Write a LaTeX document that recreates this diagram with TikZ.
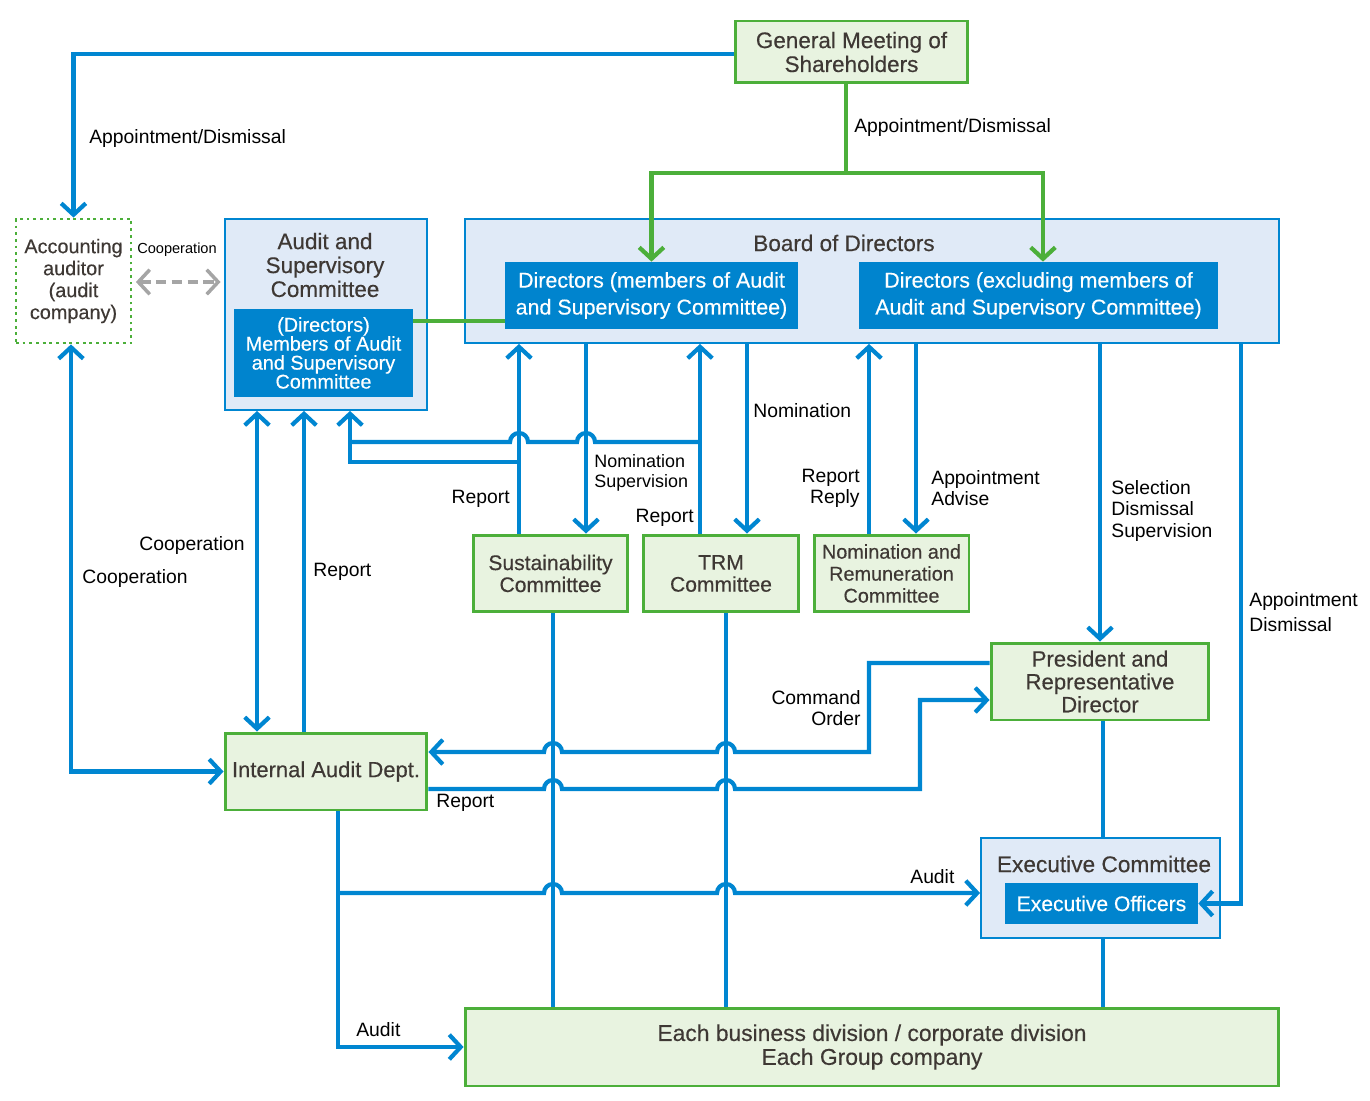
\documentclass[tikz,border=0pt]{standalone}
\usepackage{fontspec}
\setmainfont{Liberation Sans}
\newfontfamily\boxface[FakeBold=0.35]{Liberation Sans}
\usetikzlibrary{arrows.meta}
\setlength{\lineskiplimit}{-20pt}

\definecolor{lineblue}{RGB}{0,134,209}
\definecolor{linegreen}{RGB}{76,175,58}
\definecolor{fillgreen}{RGB}{232,243,224}
\definecolor{fillblue}{RGB}{224,234,247}
\definecolor{darkblue}{RGB}{0,132,206}
\definecolor{titletext}{RGB}{62,56,52}
\definecolor{dashgray}{RGB}{165,165,165}

\tikzset{
  >={Straight Barb[length=6.5pt,width=14pt]},
  blueline/.style={lineblue, line width=2.4pt},
  greenline/.style={linegreen, line width=2.4pt},
  greenbox/.style={draw=linegreen, line width=1.7pt, fill=fillgreen, text=titletext, align=center, inner sep=0pt},
  bluebox/.style={draw=lineblue, line width=1.1pt, fill=fillblue, inner sep=0pt},
  darkbox/.style={fill=darkblue, text=white, align=center, inner sep=0pt},
  boxtitle/.style={text=titletext, align=center, inner sep=0pt},
  lbl/.style={text=black, inner sep=0pt, font=\fontsize{11}{12}\selectfont},
}

\begin{document}
\begin{tikzpicture}[x=0.02cm, y=-0.02cm]
\useasboundingbox (0,0) rectangle (1370,1101);

% Top level
\node[greenbox, minimum width=4.66cm, minimum height=1.24cm, font=\boxface\fontsize{12.8}{13.6}\selectfont] (gm) at (851.5,52) {General Meeting of\\Shareholders};
\node[draw=linegreen, line width=1.6pt, dash pattern=on 1.6pt off 2.2pt, minimum width=2.30cm, minimum height=2.48cm,
  text=titletext, align=center, inner sep=0pt, font=\boxface\fontsize{11.3}{12.5}\selectfont] (acc) at (73.5,281) {Accounting\\auditor\\(audit\\company)};

% Audit and Supervisory Committee
\node[bluebox, minimum width=4.04cm, minimum height=3.82cm] (asc) at (326,314.5) {};
\node[boxtitle, font=\boxface\fontsize{12.8}{13.6}\selectfont] (asct) at (325,265) {Audit and\\Supervisory\\Committee};
\node[darkbox, minimum width=3.58cm, minimum height=1.76cm, font=\boxface\fontsize{11.3}{10.8}\selectfont] (asm) at (323.5,353) {(Directors)\\Members of Audit\\and Supervisory\\Committee};

% Board of Directors
\node[bluebox, minimum width=16.28cm, minimum height=2.48cm] (bod) at (872,281) {};
\node[boxtitle, font=\boxface\fontsize{12.8}{13.6}\selectfont] (bodt) at (844,243) {Board of Directors};
\node[darkbox, minimum width=5.86cm, minimum height=1.34cm, font=\boxface\fontsize{12.2}{15.3}\selectfont] (dam) at (651.5,295.5) {\raisebox{-3pt}{}Directors (members of Audit\\and Supervisory Committee)};
\node[darkbox, minimum width=7.18cm, minimum height=1.34cm, font=\boxface\fontsize{12.2}{15.3}\selectfont] (dex) at (1038.5,295.5) {Directors (excluding members of\\Audit and Supervisory Committee)};

% Committees
\node[greenbox, minimum width=3.10cm, minimum height=1.54cm, font=\boxface\fontsize{12}{12.5}\selectfont] (sus) at (550.5,573.5) {Sustainability\\Committee};
\node[greenbox, minimum width=3.12cm, minimum height=1.54cm, font=\boxface\fontsize{12}{12.5}\selectfont] (trm) at (721,573.5) {TRM\\Committee};
\node[greenbox, minimum width=3.10cm, minimum height=1.54cm, font=\boxface\fontsize{11.3}{12.5}\selectfont] (nrc) at (891.5,573.5) {Nomination and\\Remuneration\\Committee};

% Execution side
\node[greenbox, minimum width=4.36cm, minimum height=1.54cm, font=\boxface\fontsize{12.6}{13}\selectfont] (pres) at (1100,681.5) {President and\\Representative\\Director};
\node[greenbox, minimum width=4.04cm, minimum height=1.54cm, font=\boxface\fontsize{12.5}{13}\selectfont] (iad) at (326,771.5) {Internal Audit Dept.};
\node[bluebox, minimum width=4.78cm, minimum height=2.0cm] (exc) at (1100.5,888) {};
\node[boxtitle, font=\boxface\fontsize{12.9}{13.6}\selectfont] (exct) at (1104,864) {Executive Committee};
\node[darkbox, minimum width=3.86cm, minimum height=0.82cm, font=\boxface\fontsize{12}{13}\selectfont] (exo) at (1101.5,903.5) {Executive Officers};
\node[greenbox, minimum width=16.28cm, minimum height=1.56cm, font=\boxface\fontsize{13}{13.6}\selectfont] (biz) at (872,1047) {Each business division / corporate division\\Each Group company};

% Junctions
\coordinate (gsplit) at (846,173);
\coordinate (trmjoin) at (700,442);
\coordinate (susjoin) at (519,462);
\coordinate (iadsplit) at (338,893);

% Shareholders
\draw[blueline, ->] (gm.west |- 0,54) -| (acc.north);
\draw[greenline] (gm.south -| gsplit) -- (gsplit);
\draw[greenline, ->] (gsplit) -| (dam.north);
\draw[greenline, ->] (gsplit) -| ([xshift=0.09cm]dex.north);
\node[lbl, anchor=west] (lblgm1) at (89,139) {Appointment/Dismissal};
\node[lbl, anchor=west] (lblgm2) at (854,128) {Appointment/Dismissal};

% Audit committee links
\draw[greenline] (asm.east |- 0,321) -- (dam.west |- 0,321);
\draw[dashgray, line width=2pt, dash pattern=on 6pt off 3pt, <->, shorten <=2pt, shorten >=2pt] (acc.east |- 0,282) -- (asc.west |- 0,282);
\node[lbl, font=\fontsize{8.3}{9}\selectfont] (lblcoop1) at (177,250) {Cooperation};

% Board and committees
\draw[blueline, ->] (sus.north -| 519,0) -- (bod.south -| 519,0);
\draw[blueline, ->] (bod.south -| 586,0) -- (sus.north -| 586,0);
\draw[blueline, ->] (trm.north -| 700,0) -- (bod.south -| 700,0);
\draw[blueline, ->] (bod.south -| 747,0) -- (trm.north -| 747,0);
\draw[blueline, ->] (nrc.north -| 869,0) -- (bod.south -| 869,0);
\draw[blueline, ->] (bod.south -| 916,0) -- (nrc.north -| 916,0);
\draw[blueline, ->] (bod.south -| 1100,0) -- (pres.north -| 1100,0);
\draw[blueline, ->] (bod.south -| 1241,0) |- (exo.east);
\node[lbl, anchor=east] (lblrep1) at (510,499) {Report};
\node[lbl, anchor=west, align=left, font=\fontsize{10.2}{11.3}\selectfont] (lblnomsup) at (594,473) {Nomination\\Supervision};
\node[lbl, anchor=east] (lblrep2) at (694,518) {Report};
\node[lbl, anchor=west] (lblnom) at (753,411) {Nomination};
\node[lbl, anchor=east, align=right, font=\fontsize{11}{11.9}\selectfont] (lblrepreply) at (860,488) {Report\\Reply};
\node[lbl, anchor=west, align=left, font=\fontsize{11}{11.9}\selectfont] (lblappadv) at (931,488) {Appointment\\Advise};
\node[lbl, anchor=west, align=left, font=\fontsize{11}{12.2}\selectfont] (lblsel) at (1111,511) {Selection\\Dismissal\\Supervision};
\node[lbl, anchor=west, align=left, font=\fontsize{11}{14.2}\selectfont] (lblappdis) at (1249,612) {Appointment\\Dismissal};

% Reports to the audit committee
\draw[blueline] (trmjoin) -- (595,442) arc[start angle=0, end angle=180, radius=0.18cm]
  -- (528,442) arc[start angle=0, end angle=180, radius=0.18cm] -- (350,442);
\draw[blueline, ->] (susjoin) -| (asc.south -| 350,0);
\draw[blueline, <->] (asc.south -| 257,0) -- (iad.north -| 257,0);
\draw[blueline, ->] (iad.north -| 304,0) -- (asc.south -| 304,0);
\draw[blueline, <->] (acc.south -| 71,0) |- (iad.west);
\node[lbl, anchor=east] (lblcoop2) at (245,546) {Cooperation};
\node[lbl, anchor=west] (lblrep3) at (313,572) {Report};
\node[lbl, anchor=west] (lblcoop3) at (82,579) {Cooperation};

% Committees down to the divisions
\draw[blueline] (sus.south -| 553,0) -- (biz.north -| 553,0);
\draw[blueline] (trm.south -| 726,0) -- (biz.north -| 726,0);

% Command and report lines
\draw[blueline, ->] (pres.west |- 0,663) -| (869,752) -- (735,752) arc[start angle=0, end angle=180, radius=0.18cm]
  -- (562,752) arc[start angle=0, end angle=180, radius=0.18cm] -- (iad.east |- 0,752);
\draw[blueline, ->] (iad.east |- 0,789) -- (544,789) arc[start angle=180, end angle=0, radius=0.18cm]
  -- (717,789) arc[start angle=180, end angle=0, radius=0.18cm] -- (920,789) |- (pres.west |- 0,700);
\node[lbl, anchor=east, align=right, font=\fontsize{11}{11.9}\selectfont] (lblcmd) at (861,708) {Command\\Order};
\node[lbl, anchor=west] (lblrep4) at (436,803) {Report};

% Audit
\draw[blueline, ->] (iad.south -| 338,0) |- (biz.west);
\draw[blueline, ->] (iadsplit) -- (544,893) arc[start angle=180, end angle=0, radius=0.18cm]
  -- (717,893) arc[start angle=180, end angle=0, radius=0.18cm] -- (exc.west |- 0,893);
\node[lbl, anchor=west] (lblaud1) at (356,1030) {Audit};
\node[lbl, anchor=west] (lblaud2) at (910,877) {Audit};

% Executive chain
\draw[blueline] (pres.south -| 1103,0) -- (exc.north -| 1103,0);
\draw[blueline] (exc.south -| 1103,0) -- (biz.north -| 1103,0);
\end{tikzpicture}
\end{document}
